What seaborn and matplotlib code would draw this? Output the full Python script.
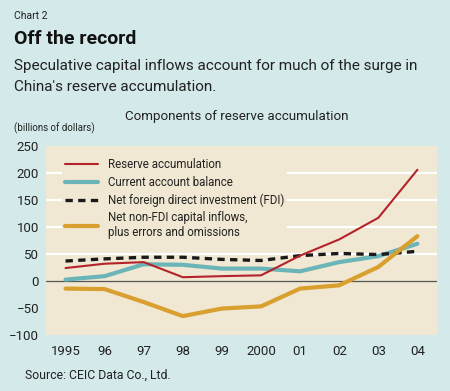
import numpy as np
import pandas as pd
import matplotlib
matplotlib.use('Agg')
import matplotlib.pyplot as plt
import seaborn as sns

# data (billions of dollars)
years = ['1995', '96', '97', '98', '99', '2000', '01', '02', '03', '04']
reserves = [24, 32, 35, 7, 9, 10.5, 47, 77, 117, 206]
current_account = [2.6, 9, 31, 30, 23, 23, 18, 35, 46, 69]
fdi = [37, 41, 44, 44, 40, 38, 47, 51, 49, 55]
non_fdi = [-14, -15, -39, -65, -51, -47, -14, -8, 26, 83]

bg = '#d3e9ea'
plot_bg = '#f0e8d2'
txt = '#222222'

sns.set_style('white')
plt.rcParams['font.family'] = ['Roboto', 'DejaVu Sans']

fig = plt.figure(figsize=(4.5, 3.91), dpi=100, facecolor=bg)
ax = fig.add_axes([0.1022, 0.1432, 0.8688, 0.4834])
ax.set_facecolor(plot_bg)

x = np.arange(len(years))
for yv in [50, 100, 150, 200]:
    ax.axhline(yv, color='white', lw=1.6, zorder=1)
ax.axhline(0, color='#555555', lw=0.9, zorder=2)

sns.lineplot(x=x, y=reserves, ax=ax, color='#b5232a', lw=1.5, label='Reserve accumulation', zorder=4)
sns.lineplot(x=x, y=current_account, ax=ax, color='#6bb5b8', lw=3, label='Current account balance', zorder=3)
sns.lineplot(x=x, y=fdi, ax=ax, color='#1a1a1a', lw=2.4, label='Net foreign direct investment (FDI)', zorder=3)
ax.lines[-1].set_dashes([2.2, 1.6])
sns.lineplot(x=x, y=non_fdi, ax=ax, color='#d9a030', lw=3, label='Net non-FDI capital inflows,\nplus errors and omissions', zorder=3)

ax.set_xlim(-0.5, 9.5)
ax.set_ylim(-100, 250)
ax.set_yticks(range(-100, 251, 50))
ax.set_yticklabels(['\u2212100', '\u221250', '0', '50', '100', '150', '200', '250'])
ax.set_xticks(x)
ax.set_xticklabels(years)
ax.set_xticks(np.arange(-0.5, 10, 1), minor=True)
ax.tick_params(axis='x', which='major', length=0, labelsize=9.5, pad=7, colors=txt)
ax.tick_params(axis='x', which='minor', length=5, width=1, direction='in', color=txt)
ax.tick_params(axis='y', length=0, labelsize=9.5, pad=5, colors=txt)
for s in ax.spines.values():
    s.set_visible(False)

leg = ax.legend(loc='upper left', bbox_to_anchor=(0.025, 0.985), frameon=True, facecolor=plot_bg,
                edgecolor='none', framealpha=1, fontsize=8.3, handlelength=2.9, handletextpad=0.8,
                labelspacing=0.4, borderpad=0.3)
for t in leg.get_texts():
    t.set_color(txt)

fig.text(0.031, 0.960, 'Chart 2', fontsize=7.5, color=txt, va='center')
fig.text(0.031, 0.899, 'Off the record', fontsize=14, fontweight='bold', color='#111111', va='center')
fig.text(0.031, 0.832, 'Speculative capital inflows account for much of the surge in', fontsize=11, color=txt, va='center')
fig.text(0.031, 0.777, "China's reserve accumulation.", fontsize=11, color=txt, va='center')
fig.text(0.278, 0.703, 'Components of reserve accumulation', fontsize=9.6, color=txt, va='center')
fig.text(0.031, 0.672, '(billions of dollars)', fontsize=7, color=txt, va='center')
fig.text(0.056, 0.041, 'Source: CEIC Data Co., Ltd.', fontsize=8.8, color=txt, va='center')

fig.savefig('out.png', dpi=100, facecolor=bg)
